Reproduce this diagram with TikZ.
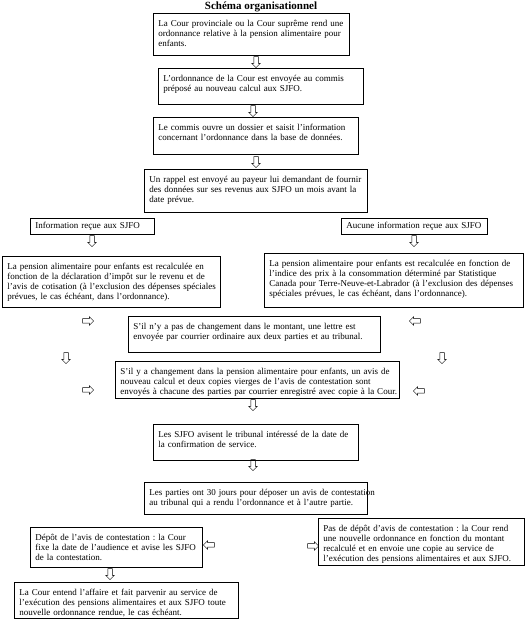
\documentclass[tikz,border=0pt]{standalone}
\usepackage{fontspec}
\setmainfont{Liberation Serif}
\frenchspacing
\usetikzlibrary{shapes.arrows}
\tikzset{
  boite/.style = {
    draw, line width=0.7pt, anchor=north west,
    inner xsep=5pt, inner ysep=5pt, text height=8.5pt, text depth=#1,
    font=\fontsize{9}{10}\selectfont,
    execute at begin node={\rightskip=0pt minus 40pt\hyphenpenalty=10000\relax}
  },
  fleche/.style = {
    single arrow, draw, line width=0.5pt, inner sep=2pt,
    minimum height=11pt, minimum width=8pt, single arrow head extend=2pt
  }
}

\begin{document}
\begin{tikzpicture}[x=1pt,y=1pt]
  \useasboundingbox (0,0) rectangle (530,626);
  \node[font=\bfseries\fontsize{11}{13}\selectfont] (titre) at (261,619) {Schéma organisationnel};

  \node[boite=23.5pt, text width=186pt] (cour) at (153,613)
    {La Cour provinciale ou la Cour suprême rend une\\ordonnance relative à la pension alimentaire pour\\enfants.};
  \node[boite=17.5pt, text width=195pt] (envoi) at (158,558)
    {L’ordonnance de la Cour est envoyée au commis\\préposé au nouveau calcul aux SJFO.};
  \node[boite=18.5pt, text width=195pt] (dossier) at (153,509)
    {Le commis ouvre un dossier et saisit l’information\\concernant l’ordonnance dans la base de données.};
  \node[boite=24.5pt, text width=213pt] (rappel) at (144,457)
    {Un rappel est envoyé au payeur lui demandant de fournir\\des données sur ses revenus aux SJFO un mois avant la\\date prévue.};
  \node[boite=4pt, text width=114pt, inner ysep=2pt, text height=8pt] (recue) at (30,408)
    {Information reçue aux SJFO};
  \node[boite=4pt, text width=136pt, inner ysep=2pt, text height=8pt] (aucune) at (341,408)
    {Aucune information reçue aux SJFO};
  \node[boite=32.5pt, text width=208pt] (impot) at (2,370)
    {La pension alimentaire pour enfants est recalculée en\\fonction de la déclaration d’impôt sur le revenu et de\\l’avis de cotisation (à l’exclusion des dépenses spéciales\\prévues, le cas échéant, dans l’ordonnance).};
  \node[boite=35.5pt, text width=249pt] (indice) at (264,373)
    {La pension alimentaire pour enfants est recalculée en fonction de\\l’indice des prix à la consommation déterminé par Statistique\\Canada pour Terre-Neuve-et-Labrador (à l’exclusion des dépenses\\spéciales prévues, le cas échéant, dans l’ordonnance).};
  \node[boite=17.5pt, text width=242pt] (lettre) at (128,310)
    {S’il n’y a pas de changement dans le montant, une lettre est\\envoyée par courrier ordinaire aux deux parties et au tribunal.};
  \node[boite=18.5pt, text width=274pt] (avis) at (115,265)
    {S’il y a changement dans la pension alimentaire pour enfants, un avis de\\nouveau calcul et deux copies vierges de l’avis de contestation sont\\envoyés à chacune des parties par courrier enregistré avec copie à la Cour.};
  \node[boite=17.5pt, text width=195pt] (service) at (153,202)
    {Les SJFO avisent le tribunal intéressé de la date de\\la confirmation de service.};
  \node[boite=13.5pt, text width=213pt] (delai) at (144,144)
    {Les parties ont 30 jours pour déposer un avis de contestation\\au tribunal qui a rendu l’ordonnance et à l’autre partie.};
  \node[boite=21.5pt, text width=162pt] (depot) at (30,99)
    {Dépôt de l’avis de contestation : la Cour\\fixe la date de l’audience et avise les SJFO\\de la contestation.};
  \node[boite=28.5pt, text width=196pt] (nondepot) at (318,108)
    {Pas de dépôt d’avis de contestation : la Cour rend\\une nouvelle ordonnance en fonction du montant\\recalculé et en envoie une copie au service de\\l’exécution des pensions alimentaires et aux SJFO.};
  \node[boite=17.5pt, text width=214pt] (audience) at (14,44)
    {La Cour entend l’affaire et fait parvenir au service de\\l’exécution des pensions alimentaires et aux SJFO toute\\nouvelle ordonnance rendue, le cas échéant.};

  % fleches
  \foreach \X/\Y/\i in {256/565/1,253/516/2,256/465/3,92/386/4,414/386/5,
                        66/269/6,442/269/7,253/222/8,253/162/9,110/53/10} {%
    \node[fleche, shape border rotate=270] (bas\i) at (\X,\Y) {};
  }
  \foreach \X/\Y/\i in {87/305/1,87/236/2,312/80/3} {%
    \node[fleche] (droite\i) at (\X,\Y) {};
  }
  \foreach \X/\Y/\i in {416/305/1,420/235/2,210/81/3} {%
    \node[fleche, shape border rotate=180] (gauche\i) at (\X,\Y) {};
  }
\end{tikzpicture}
\end{document}
